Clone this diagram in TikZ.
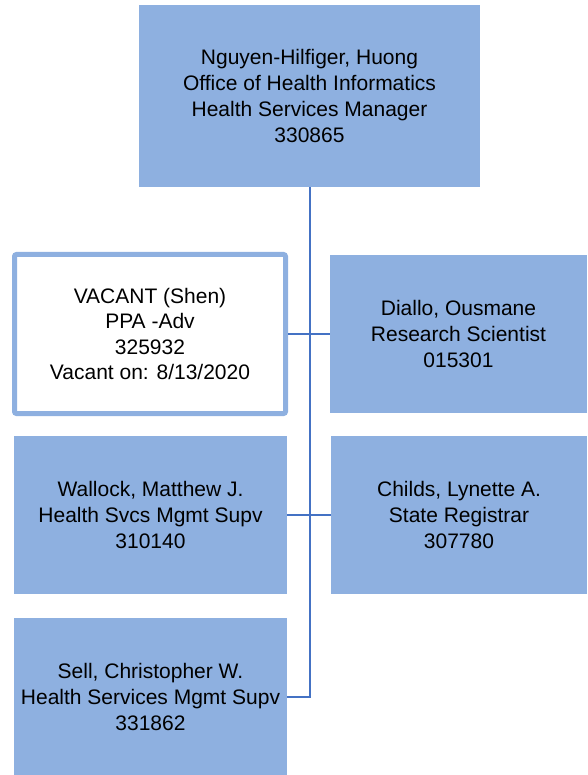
\documentclass[tikz,border=0pt]{standalone}
\usepackage{fontspec}
\setmainfont{Liberation Sans}
\definecolor{boxblue}{HTML}{8EB0E0}
\definecolor{linkblue}{HTML}{4472C4}
\begin{document}
\begin{tikzpicture}[x=1pt,y=-1pt,
  box/.style={fill=boxblue, draw=none, align=center, inner sep=0pt,
    font=\fontsize{21}{26}\selectfont},
  vacbox/.style={fill=white, draw=boxblue, line width=5pt, rounded corners=2pt, align=center, inner sep=0pt,
    font=\fontsize{21}{25.5}\selectfont},
  link/.style={draw=linkblue, line width=2pt}]
\useasboundingbox (0,0) rectangle (587,775);
\node[box, minimum width=341pt, minimum height=182pt] (top) at (309.5,96) {Nguyen-Hilfiger, Huong\\Office of Health Informatics\\Health Services Manager\\330865};
\node[vacbox, minimum width=271pt, minimum height=159pt] (vac) at (150,334) {VACANT (Shen)\\PPA -Adv\\325932\\Vacant on: 8/13/2020};
\node[box, minimum width=257pt, minimum height=158pt] (diallo) at (458.5,334) {Diallo, Ousmane\\Research Scientist\\015301};
\node[box, minimum width=273pt, minimum height=158pt] (wallock) at (150.5,515) {Wallock, Matthew J.\\Health Svcs Mgmt Supv\\310140};
\node[box, minimum width=256pt, minimum height=158pt] (childs) at (459,515) {Childs, Lynette A.\\State Registrar\\307780};
\node[box, minimum width=273pt, minimum height=157pt] (sell) at (150.5,696.5) {Sell, Christopher W.\\Health Services Mgmt Supv\\331862};
\draw[link] (top.south) -- (top.south |- sell.east) -- (sell.east);
\draw[link] (vac.east) -- (diallo.west);
\draw[link] (wallock.east) -- (childs.west);
\end{tikzpicture}
\end{document}
